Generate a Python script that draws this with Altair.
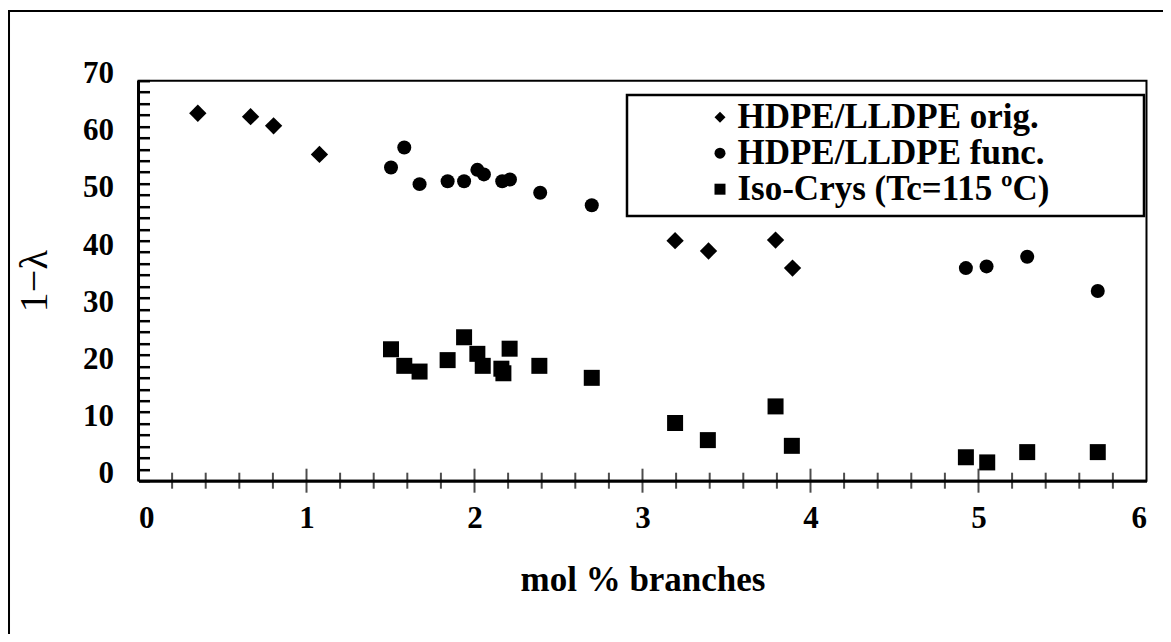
import altair as alt
import pandas as pd

# ---- data ----
series_names = ["HDPE/LLDPE orig.", "HDPE/LLDPE func.", "Iso-Crys (Tc=115 ºC)"]

orig_x = [0.353, 0.667, 0.804, 1.077, 3.194, 3.393, 3.792, 3.893]
orig_y = [64.3, 63.7, 62.1, 57.1, 42.0, 40.2, 42.1, 37.2]

func_x = [1.503, 1.582, 1.673, 1.840, 1.938, 2.017, 2.056, 2.165, 2.211, 2.391, 2.698,
          4.925, 5.048, 5.290, 5.710]
func_y = [54.8, 58.3, 51.9, 52.4, 52.4, 54.4, 53.6, 52.4, 52.7, 50.4, 48.2,
          37.2, 37.5, 39.2, 33.2]

iso_x = [1.503, 1.582, 1.673, 1.840, 1.938, 2.017, 2.049, 2.160, 2.172, 2.209, 2.386, 2.698,
         3.194, 3.389, 3.792, 3.889, 4.925, 5.052, 5.290, 5.710]
iso_y = [23.0, 20.1, 19.1, 21.1, 25.1, 22.2, 20.1, 19.6, 18.8, 23.1, 20.1, 18.0,
         10.1, 7.1, 13.0, 6.1, 4.1, 3.2, 5.0, 5.0]

x_tick_labels = [0, 1, 2, 3, 4, 5, 6]
x_minor_ticks = [round(i * 0.2, 1) for i in range(1, 30) if i % 5 != 0]
x_major_ticks = [1, 2, 3, 4, 5]
y_ticks = list(range(0, 72, 2))          # every 2 units, labelled every 10

W, H = 1008, 400
FONT = "Liberation Serif"
TICK_Y = 11

xscale = alt.Scale(domain=[0, 6], nice=False, zero=False)
yscale = alt.Scale(domain=[0, 70], nice=False, zero=False)
shape_scale = alt.Scale(domain=series_names, range=["diamond", "circle", "square"])

one = pd.DataFrame({"k": [0]})

# decorative outer frame, legend box and thick left axis line
frame = alt.Chart(one).mark_rect(fill="transparent", stroke="black", strokeWidth=2).encode(
    x=alt.value(-129.5), x2=alt.value(1040), y=alt.value(-69.7), y2=alt.value(600))
legbox = alt.Chart(one).mark_rect(fill="transparent", stroke="black", strokeWidth=2.5).encode(
    x=alt.value(488.5), x2=alt.value(1005.5), y=alt.value(14.3), y2=alt.value(135.3))
yline = alt.Chart(one).mark_rule(color="black", strokeWidth=3).encode(
    x=alt.value(0), y=alt.value(0), y2=alt.value(H))

def xt(vals, ln):
    # inward-pointing ticks on the bottom axis
    return alt.Chart(pd.DataFrame({"xv": vals})).mark_tick(
        color="black", thickness=2, size=ln * 2, orient="vertical").encode(
        x=alt.X("xv:Q", scale=xscale), y=alt.value(H))

x_axis = alt.Axis(values=x_tick_labels, ticks=False, grid=False, format="d",
                  domainWidth=3, domainColor="black", labelFontSize=31,
                  labelPadding=23, titleY=99, titleBaseline="middle", titleFontSize=35)
# axis shifted into the plot so its ticks end on the plot edge -> inward ticks
y_axis = alt.Axis(values=y_ticks, grid=False, domain=False, offset=-TICK_Y,
                  ticks=True, tickSize=TICK_Y, tickWidth=2.5, tickColor="black",
                  zindex=2,
                  labelExpr="datum.value % 10 === 0 ? datum.label : ''",
                  labelOverlap=False, labelFontSize=31,
                  labelPadding=25, labelOffset=-7,
                  titleX=-104 - TICK_Y, titleY=200, titleAngle=270,
                  titleBaseline="middle", titleAlign="center",
                  titleFontWeight="normal", titleFontSize=40)

def pts(name, xs, ys, size, with_legend):
    d = pd.DataFrame({"x": xs, "y": ys, "series": name})
    leg = None
    if with_legend:
        leg = alt.Legend(title=None, orient="none", legendX=564, legendY=19,
                         padding=0, symbolSize=121, labelOffset=0,
                         rowPadding=0, symbolFillColor="black",
                         symbolStrokeWidth=0, labelFont=FONT,
                         labelFontSize=35, labelFontWeight="bold",
                         labelColor="black", labelLimit=600)
    return alt.Chart(d).mark_point(filled=True, opacity=1, color="black", size=size).encode(
        x=alt.X("x:Q", scale=xscale, title="mol % branches", axis=x_axis),
        y=alt.Y("y:Q", scale=yscale, title="1−λ", axis=y_axis),
        shape=alt.Shape("series:N", scale=shape_scale, legend=leg),
    )

chart = alt.layer(
    frame, legbox,
    pts(series_names[0], orig_x, orig_y, 300, True),
    pts(series_names[1], func_x, func_y, 196, False),
    pts(series_names[2], iso_x, iso_y, 256, False),
    xt(x_minor_ticks, 8), xt(x_major_ticks, 12),
    yline,
).properties(
    width=W, height=H, autosize="none",
    padding={"left": 130.5, "top": 72.7, "right": 16, "bottom": 153},
    background="white",
).configure_view(stroke="black", strokeWidth=2).configure_axis(
    labelFont=FONT, labelFontWeight="bold", labelColor="black",
    titleFont=FONT, titleFontWeight="bold", titleColor="black",
)

chart.save("out.html", embed_options={"renderer": "svg", "actions": False})
